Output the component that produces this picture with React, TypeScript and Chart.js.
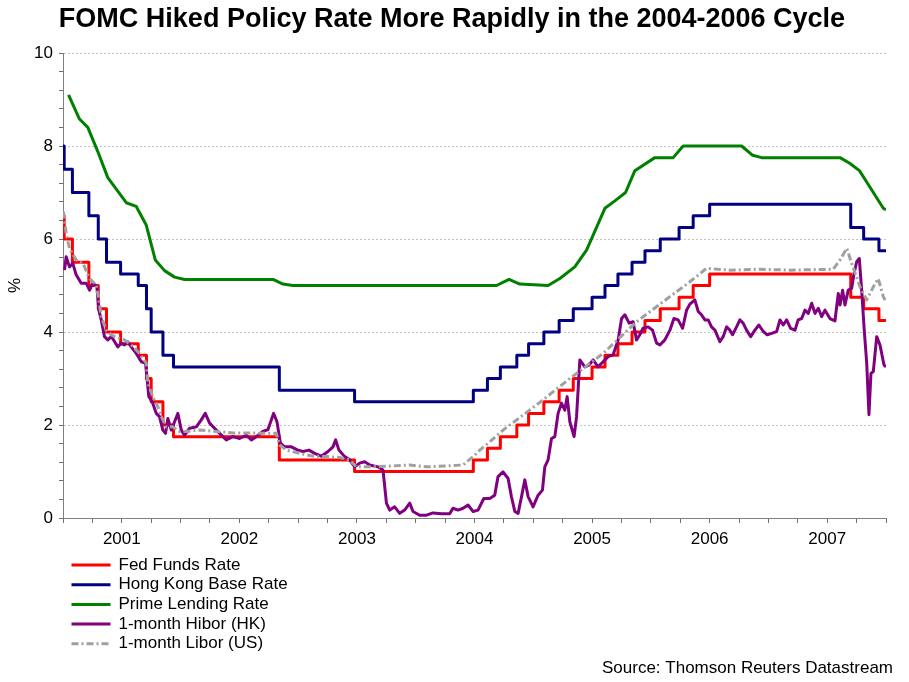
import React, { useEffect, useRef } from 'react';
import { Chart, registerables } from 'chart.js';

Chart.register(...registerables);

const TITLE = 'FOMC Hiked Policy Rate More Rapidly in the 2004-2006 Cycle';
const SOURCE = 'Source: Thomson Reuters Datastream';
const Y_TITLE = '%';
const seriesNames = ['Fed Funds Rate', 'Hong Kong Base Rate', 'Prime Lending Rate', '1-month Hibor (HK)', '1-month Libor (US)'];
const yearLabels = ['2001', '2002', '2003', '2004', '2005', '2006', '2007'];
const yMin = 0;
const yMax = 10;
const yLabelStep = 2;

// Policy-rate change dates (decimal years)
const policyDates = [
  2001.0, 2001.01, 2001.08, 2001.22, 2001.3, 2001.37, 2001.49, 2001.64, 2001.71, 2001.75, 2001.85, 2001.94,
  2002.84, 2003.48, 2004.49, 2004.61, 2004.72, 2004.86, 2004.96, 2005.09, 2005.22, 2005.34, 2005.5, 2005.61,
  2005.72, 2005.84, 2005.95, 2006.08, 2006.24, 2006.36, 2006.5, 2007.7, 2007.81, 2007.94, 2008.0,
];
const fedRates = [
  6.5, 6.0, 5.5, 5.0, 4.5, 4.0, 3.75, 3.5, 3.0, 2.5, 2.0, 1.75,
  1.25, 1.0, 1.25, 1.5, 1.75, 2.0, 2.25, 2.5, 2.75, 3.0, 3.25, 3.5,
  3.75, 4.0, 4.25, 4.5, 4.75, 5.0, 5.25, 4.75, 4.5, 4.25, 4.25,
];
const hkBaseRates = [
  8.0, 7.5, 7.0, 6.5, 6.0, 5.5, 5.25, 5.0, 4.5, 4.0, 3.5, 3.25,
  2.75, 2.5, 2.75, 3.0, 3.25, 3.5, 3.75, 4.0, 4.25, 4.5, 4.75, 5.0,
  5.25, 5.5, 5.75, 6.0, 6.25, 6.5, 6.75, 6.25, 6.0, 5.75, 5.75,
];

const primeDates = [
  2001.047, 2001.14, 2001.211, 2001.296, 2001.381, 2001.538, 2001.623, 2001.708, 2001.785, 2001.864, 2001.949,
  2002.034, 2002.786, 2002.871, 2002.956, 2004.687, 2004.794, 2004.885, 2005.126, 2005.226, 2005.353, 2005.453,
  2005.609, 2005.694, 2005.785, 2005.864, 2006.034, 2006.19, 2006.275, 2006.772, 2006.866, 2006.942, 2007.609,
  2007.691, 2007.774, 2007.86, 2007.977, 2008.0,
];
const primeRates = [
  9.1, 8.58, 8.4, 7.88, 7.32, 6.78, 6.7, 6.3, 5.55, 5.32, 5.18,
  5.13, 5.13, 5.03, 5.0, 5.0, 5.13, 5.03, 5.0, 5.15, 5.4, 5.76,
  6.66, 6.82, 7.0, 7.47, 7.75, 7.75, 8.0, 8.0, 7.8, 7.75, 7.75,
  7.63, 7.47, 7.13, 6.66, 6.63,
];

const hiborDates = [
  2001.013, 2001.027, 2001.055, 2001.083, 2001.112, 2001.155, 2001.197, 2001.226, 2001.254, 2001.288,
  2001.305, 2001.325, 2001.353, 2001.381, 2001.41, 2001.43, 2001.466, 2001.495, 2001.523, 2001.551,
  2001.58, 2001.623, 2001.666, 2001.702, 2001.73, 2001.759, 2001.793, 2001.821, 2001.849, 2001.872,
  2001.892, 2001.921, 2001.949, 2001.977,
  2002.006, 2002.034, 2002.077, 2002.134, 2002.176, 2002.21, 2002.247, 2002.289, 2002.332, 2002.389,
  2002.445, 2002.502, 2002.559, 2002.602, 2002.644, 2002.7, 2002.743, 2002.791, 2002.82, 2002.849,
  2002.885, 2002.942, 2002.998,
  2003.041, 2003.092, 2003.14, 2003.197, 2003.254, 2003.296, 2003.319, 2003.347, 2003.396, 2003.438,
  2003.481, 2003.523, 2003.566, 2003.609, 2003.679, 2003.722, 2003.751, 2003.779, 2003.821, 2003.864,
  2003.906, 2003.949, 2003.977,
  2004.034, 2004.091, 2004.147, 2004.219, 2004.289, 2004.317, 2004.36, 2004.403, 2004.445, 2004.488,
  2004.53, 2004.579, 2004.63, 2004.672, 2004.7, 2004.743, 2004.786, 2004.814, 2004.843, 2004.871,
  2004.9, 2004.928, 2004.956, 2004.998,
  2005.041, 2005.078, 2005.098, 2005.126, 2005.155, 2005.183, 2005.211, 2005.24, 2005.268, 2005.288,
  2005.311, 2005.347, 2005.368, 2005.396, 2005.438, 2005.475, 2005.509, 2005.551, 2005.594, 2005.637,
  2005.679, 2005.722, 2005.751, 2005.779, 2005.815, 2005.849, 2005.878, 2005.906, 2005.934, 2005.977,
  2006.014, 2006.049, 2006.077, 2006.119, 2006.162, 2006.196, 2006.232, 2006.27, 2006.304, 2006.332,
  2006.374, 2006.403, 2006.431, 2006.46, 2006.488, 2006.516, 2006.545, 2006.587, 2006.615, 2006.644,
  2006.672, 2006.695, 2006.729, 2006.757, 2006.785, 2006.814, 2006.849, 2006.885, 2006.919, 2006.956,
  2006.99,
  2007.027, 2007.07, 2007.098, 2007.126, 2007.155, 2007.189, 2007.226, 2007.253, 2007.283, 2007.311,
  2007.339, 2007.368, 2007.396, 2007.424, 2007.453, 2007.481, 2007.523, 2007.566, 2007.594, 2007.609,
  2007.631, 2007.651, 2007.679, 2007.708, 2007.728, 2007.751, 2007.773, 2007.793, 2007.815, 2007.836,
  2007.855, 2007.872, 2007.892, 2007.921, 2007.949, 2007.983, 2008.0,
];
const hiborRates = [
  5.33, 5.62, 5.4, 5.48, 5.23, 5.05, 5.05, 4.9, 5.05, 4.97,
  4.47, 4.26, 3.9, 3.83, 3.9, 3.83, 3.68, 3.76, 3.72, 3.79,
  3.68, 3.54, 3.36, 3.33, 2.61, 2.5, 2.25, 2.18, 1.89, 1.82,
  2.14, 1.89, 2.07, 2.25,
  1.89, 1.78, 1.93, 1.96, 2.11, 2.25, 2.04, 1.93, 1.82, 1.68,
  1.75, 1.71, 1.78, 1.68, 1.75, 1.86, 1.9, 2.25, 2.07, 1.61,
  1.53, 1.53, 1.46,
  1.43, 1.46, 1.39, 1.33, 1.43, 1.53, 1.68, 1.46, 1.32, 1.25,
  1.1, 1.18, 1.21, 1.14, 1.1, 1.03, 0.32, 0.17, 0.24, 0.1,
  0.17, 0.32, 0.14,
  0.06, 0.06, 0.11, 0.09, 0.09, 0.21, 0.17, 0.21, 0.28, 0.14,
  0.17, 0.42, 0.42, 0.49, 0.89, 0.99, 0.85, 0.46, 0.14, 0.1,
  0.46, 0.82, 0.46, 0.24,
  0.49, 0.6, 1.1, 1.25, 1.71, 1.75, 2.25, 2.47, 2.32, 2.61,
  2.07, 1.75, 2.18, 3.4, 3.25, 3.29, 3.4, 3.25, 3.36, 3.47,
  3.51, 3.83, 4.29, 4.37, 4.19, 4.22, 3.83, 3.94, 4.08, 4.11,
  4.04, 3.76, 3.72, 3.83, 4.04, 4.29, 4.26, 4.08, 4.47, 4.6,
  4.69, 4.44, 4.37, 4.26, 4.26, 4.11, 4.04, 3.79, 3.9, 4.11,
  4.04, 3.94, 4.11, 4.26, 4.19, 4.04, 3.9, 4.04, 4.15, 4.01,
  3.94,
  3.97, 4.01, 4.26, 4.15, 4.26, 4.08, 4.04, 4.26, 4.29, 4.47,
  4.4, 4.62, 4.4, 4.51, 4.33, 4.47, 4.29, 4.24, 4.83, 4.58,
  4.9, 4.58, 4.9, 4.94, 5.26, 5.51, 5.58, 4.9, 4.04, 3.33,
  2.22, 3.11, 3.15, 3.9, 3.72, 3.29, 3.25,
];

const liborDates = [
  2001.004, 2001.027, 2001.055, 2001.112, 2001.169, 2001.226, 2001.283, 2001.305, 2001.325, 2001.368,
  2001.41, 2001.466, 2001.523, 2001.58, 2001.651, 2001.708, 2001.722, 2001.764, 2001.807, 2001.836,
  2001.878, 2001.934, 2001.991,
  2002.049, 2002.162, 2002.304, 2002.445, 2002.587, 2002.729, 2002.814, 2002.843, 2002.9,
  2003.013, 2003.126, 2003.24, 2003.353, 2003.438, 2003.495, 2003.609, 2003.807, 2003.949,
  2004.091, 2004.261, 2004.403, 2004.488, 2004.545, 2004.63, 2004.743,
  2005.027, 2005.311, 2005.594, 2005.878,
  2006.162, 2006.332, 2006.474, 2006.672, 2006.928,
  2007.183, 2007.551, 2007.609, 2007.666, 2007.708, 2007.779, 2007.836, 2007.892, 2007.934, 2007.977, 2008.0,
];
const liborRates = [
  6.59, 6.12, 5.8, 5.55, 5.48, 5.15, 5.01, 4.69, 4.33, 4.04,
  3.94, 3.87, 3.83, 3.72, 3.54, 3.33, 2.9, 2.61, 2.39, 2.18,
  1.96, 1.96, 1.86,
  1.86, 1.89, 1.86, 1.83, 1.83, 1.82, 1.82, 1.57, 1.46,
  1.39, 1.33, 1.32, 1.3, 1.25, 1.1, 1.1, 1.12, 1.14,
  1.1, 1.12, 1.14, 1.32, 1.46, 1.64, 1.89,
  2.43, 3.0, 3.54, 4.22,
  4.76, 5.08, 5.37, 5.33, 5.35,
  5.33, 5.35, 5.55, 5.8, 5.48, 4.97, 4.69, 4.97, 5.15, 4.76, 4.65,
];

const FONT = '"Liberation Sans", Arial, Helvetica, sans-serif';

const toPoints = (xs: number[], ys: number[]) => xs.map((x, i) => ({ x, y: ys[i] }));

const textDecor = {
  id: 'textDecor',
  afterDraw(chart: any) {
    const { ctx, chartArea } = chart;
    ctx.save();
    // title
    ctx.font = `bold 27px ${FONT}`;
    ctx.fillStyle = '#000';
    ctx.textAlign = 'center';
    ctx.textBaseline = 'middle';
    ctx.fillText(TITLE, 452, 20);
    // legend
    ctx.font = `17px ${FONT}`;
    chart.data.datasets.forEach((ds: any, i: number) => {
      const y = chartArea.bottom + 47 + i * 19.7;
      ctx.beginPath();
      ctx.setLineDash(ds.borderDash || []);
      ctx.lineWidth = ds.borderWidth;
      ctx.strokeStyle = ds.borderColor;
      ctx.moveTo(chartArea.left + 8.5, y);
      ctx.lineTo(chartArea.left + 47.5, y);
      ctx.stroke();
      ctx.setLineDash([]);
      ctx.fillStyle = '#000';
      ctx.textAlign = 'left';
      ctx.fillText(ds.label, chartArea.left + 55.5, y);
    });
    // source
    ctx.textAlign = 'right';
    ctx.fillStyle = '#000';
    ctx.fillText(SOURCE, chart.width - 16, chart.height - 14);
    ctx.restore();
  },
};

export default function App() {
  const ref = useRef<HTMLCanvasElement>(null);

  useEffect(() => {
    const canvas = ref.current;
    if (!canvas) return;
    Chart.defaults.font.family = FONT;
    Chart.defaults.color = '#000';
    const xMin = Number(yearLabels[0]);
    const xMax = Number(yearLabels[yearLabels.length - 1]) + 1;

    const chart = new Chart(canvas, {
      type: 'line',
      data: {
        datasets: [
          { label: seriesNames[0], data: toPoints(policyDates, fedRates), borderColor: '#ff0000', borderWidth: 3, stepped: true, order: 4 },
          { label: seriesNames[1], data: toPoints(policyDates, hkBaseRates), borderColor: '#000080', borderWidth: 3, stepped: true, order: 3 },
          { label: seriesNames[2], data: toPoints(primeDates, primeRates), borderColor: '#008000', borderWidth: 3, order: 2 },
          { label: seriesNames[3], data: toPoints(hiborDates, hiborRates), borderColor: '#800080', borderWidth: 3, order: 1 },
          { label: seriesNames[4], data: toPoints(liborDates, liborRates), borderColor: '#a0a0a0', borderWidth: 3, borderDash: [7, 3, 2, 3], order: 0 },
        ],
      } as any,
      options: {
        responsive: false,
        animation: false,
        devicePixelRatio: 1,
        layout: { padding: { left: 0, right: 23, top: 53, bottom: 134 } },
        elements: { point: { radius: 0 }, line: { tension: 0, borderJoinStyle: 'round' } },
        plugins: {
          legend: { display: false },
          tooltip: { enabled: false },
          title: { display: false },
        },
        scales: {
          x: {
            type: 'linear',
            min: xMin,
            max: xMax,
            afterFit: (s: any) => { s.height = 30; },
            ticks: {
              stepSize: 0.25,
              autoSkip: false,
              maxRotation: 0,
              minRotation: 0,
              color: '#000',
              padding: 6,
              font: { size: 17 },
              callback: (v: any) => {
                const idx = Math.round(Number(v) - xMin - 0.5);
                if (Math.abs(Number(v) - (xMin + idx + 0.5)) < 1e-6 && idx >= 0 && idx < yearLabels.length) return yearLabels[idx];
                return '';
              },
            },
            grid: { drawOnChartArea: false, tickLength: 5, tickColor: '#707070', tickWidth: 1 },
            border: { color: '#808080', width: 1 },
          },
          y: {
            min: yMin,
            max: yMax,
            afterFit: (s: any) => { s.width = 63; },
            title: { display: true, text: Y_TITLE, color: '#000', font: { size: 17 }, padding: { top: 5, bottom: 0 } },
            ticks: {
              stepSize: 0.4,
              autoSkip: false,
              color: '#000',
              padding: 6,
              font: { size: 17 },
              callback: (v: any) => {
                const n = Number(v) / yLabelStep;
                return Math.abs(n - Math.round(n)) < 1e-6 ? String(Math.round(Number(v))) : '';
              },
            },
            grid: {
              color: (c: any) => {
                const v = c.tick ? c.tick.value : 0;
                const n = v / yLabelStep;
                return v > 0 && Math.abs(n - Math.round(n)) < 1e-6 ? '#c4c4c4' : 'rgba(0,0,0,0)';
              },
              lineWidth: 1,
              tickLength: 4,
              tickColor: '#707070',
            },
            border: { color: '#808080', width: 1, dash: [2, 2] },
          },
        },
      } as any,
      plugins: [textDecor],
    });
    return () => chart.destroy();
  }, []);

  return (
    <div style={{ position: 'absolute', left: 0, top: 0, width: 909, height: 682, background: '#fff' }}>
      <canvas ref={ref} width={909} height={682} style={{ display: 'block', width: 909, height: 682 }} />
    </div>
  );
}
